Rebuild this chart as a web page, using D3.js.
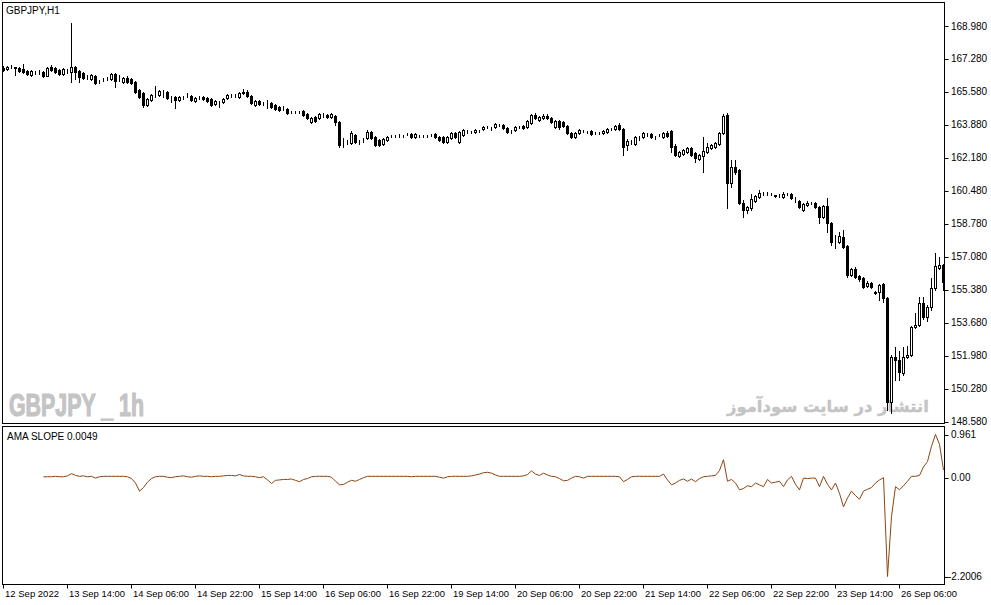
<!DOCTYPE html>
<html><head><meta charset="utf-8">
<script src="https://cdn.jsdelivr.net/npm/d3@7/dist/d3.min.js"></script>
<style>html,body{margin:0;padding:0;background:#fff;}svg{display:block;}</style>
</head><body>
<script>
const symbolTitle = "GBPJPY,H1";
const indicatorTitle = "AMA SLOPE 0.0049";
const watermarkLeft = "GBPJPY _ 1h";
const watermarkRight = "انتشار در سایت سودآموز";

const open = [166.81,166.76,166.87,166.84,166.81,166.76,166.66,166.45,166.66,166.63,166.61,166.40,166.87,166.81,166.71,166.50,166.73,166.61,166.87,166.66,166.56,166.36,166.25,166.40,166.14,166.18,166.36,166.25,166.50,166.25,166.09,166.30,166.25,166.09,165.68,165.53,164.91,165.16,165.47,165.42,165.60,165.58,165.37,165.32,165.16,165.32,165.40,165.37,165.11,165.30,165.32,165.27,165.22,164.96,165.11,165.06,165.27,165.37,165.39,165.32,165.58,165.58,165.37,164.91,165.11,165.01,164.97,165.01,164.91,164.80,164.76,164.70,164.55,164.55,164.60,164.60,164.44,164.03,164.29,164.23,164.40,164.39,164.29,164.34,164.03,162.98,162.99,162.95,163.36,163.00,163.08,163.20,163.51,163.26,163.10,162.89,163.10,163.30,163.32,163.35,163.32,163.39,163.41,163.26,163.32,163.30,163.32,163.34,163.41,163.26,163.26,163.00,163.20,163.46,163.00,163.36,163.50,163.52,163.51,163.58,163.67,163.77,163.75,163.77,163.88,163.87,163.72,163.62,163.62,163.77,163.82,163.77,163.98,164.39,164.13,164.23,164.34,164.23,163.77,164.08,164.03,163.82,163.46,163.26,163.46,163.58,163.55,163.56,163.45,163.47,163.46,163.51,163.70,163.67,163.87,163.67,162.84,163.00,162.89,163.26,163.26,163.36,163.41,163.26,163.35,163.26,163.46,163.56,162.79,162.28,162.38,162.48,162.69,162.43,162.12,162.28,162.48,162.69,162.74,162.89,163.46,164.39,160.88,161.71,161.55,159.85,159.49,159.59,159.96,160.16,160.32,160.34,160.32,160.24,160.27,160.16,160.32,160.32,160.11,159.96,159.49,159.75,159.86,159.85,159.65,159.13,159.70,158.82,157.96,157.84,158.10,157.64,156.14,156.45,156.09,155.98,155.57,155.73,155.26,155.26,155.67,154.95,149.59,151.91,151.76,151.09,151.91,152.01,153.46,153.56,154.70,153.97,154.49,155.47,156.50,156.66];
const high = [166.92,166.92,166.97,166.84,166.84,167.02,166.71,166.71,166.68,166.71,166.66,166.84,166.97,166.87,166.76,166.81,166.76,169.15,166.92,166.71,166.61,166.45,166.50,166.45,166.20,166.30,166.36,166.56,166.56,166.45,166.35,166.40,166.30,166.14,165.73,165.58,165.27,165.47,165.89,165.68,165.68,165.63,165.37,165.37,165.37,165.37,165.53,165.42,165.32,165.37,165.37,165.32,165.27,165.16,165.11,165.27,165.47,165.47,165.47,165.58,165.73,165.68,165.42,165.16,165.16,165.06,165.16,165.06,164.96,164.85,164.85,164.75,164.60,164.60,164.62,164.65,164.49,164.28,164.34,164.49,164.49,164.44,164.49,164.39,164.08,163.20,163.10,163.56,163.41,163.10,163.20,163.62,163.56,163.31,163.15,163.20,163.31,163.36,163.38,163.41,163.36,163.46,163.46,163.46,163.36,163.38,163.36,163.41,163.46,163.31,163.31,163.31,163.51,163.51,163.56,163.67,163.60,163.58,163.67,163.64,163.82,163.82,163.79,163.98,163.93,163.93,163.77,163.64,163.82,163.82,163.87,164.13,164.44,164.49,164.34,164.44,164.44,164.28,164.13,164.13,164.08,163.87,163.51,163.51,163.67,163.64,163.59,163.62,163.51,163.51,163.62,163.72,163.74,163.87,163.98,163.72,163.15,163.10,163.31,163.30,163.51,163.46,163.46,163.31,163.41,163.51,163.56,163.62,162.89,162.54,162.64,162.74,162.74,162.48,162.38,163.26,162.95,162.89,163.00,163.51,164.44,164.49,162.07,162.07,161.60,160.01,159.70,160.32,160.27,160.52,160.42,160.42,160.37,160.27,160.32,160.42,160.37,160.37,160.16,160.01,159.85,159.96,159.92,159.90,159.70,159.75,160.11,158.87,158.20,158.36,158.46,157.69,156.50,156.55,156.14,156.04,155.83,155.78,155.31,155.67,155.73,155.00,152.01,152.43,152.22,152.43,152.48,153.51,154.20,155.00,155.00,154.59,155.98,157.27,157.06,156.71];
const low = [166.66,166.71,166.79,166.45,166.61,166.56,166.45,166.40,166.50,166.52,166.35,166.38,166.66,166.56,166.45,166.45,166.55,166.11,166.25,166.09,166.25,166.25,166.20,165.99,166.04,166.12,166.20,166.20,165.83,166.14,166.04,166.04,165.99,165.53,165.27,164.80,164.85,165.11,165.32,165.37,165.32,165.22,165.06,164.75,165.11,165.22,165.32,165.11,165.06,165.22,165.16,165.06,164.85,164.91,164.80,165.01,165.22,165.32,165.32,165.27,165.47,165.32,164.96,164.85,164.91,164.91,164.75,164.75,164.65,164.60,164.65,164.44,164.49,164.49,164.49,164.34,164.18,163.98,164.03,164.18,164.29,164.23,164.23,163.87,162.74,162.74,162.92,162.89,162.95,162.92,163.00,163.15,163.15,162.79,162.79,162.84,163.05,163.26,163.24,163.26,163.24,163.36,163.20,163.20,163.24,163.26,163.24,163.30,163.20,163.05,162.95,162.95,163.15,163.20,162.95,163.31,163.44,163.44,163.46,163.50,163.62,163.70,163.62,163.72,163.82,163.67,163.46,163.46,163.56,163.70,163.67,163.72,163.93,164.18,164.08,164.18,164.18,163.98,163.72,163.67,163.77,163.41,163.20,163.20,163.41,163.50,163.46,163.36,163.41,163.40,163.41,163.46,163.62,163.62,163.62,162.33,162.59,162.92,162.84,163.10,163.20,163.31,163.20,163.15,163.30,163.20,163.26,162.48,162.28,162.23,162.33,162.43,162.28,161.97,162.07,161.45,162.43,162.64,162.69,162.84,163.41,159.59,160.68,161.35,159.80,159.13,159.34,159.49,159.90,160.11,160.27,160.27,160.27,160.16,160.16,160.11,160.24,160.06,159.90,159.59,159.44,159.70,159.78,159.59,158.82,159.08,158.36,157.69,157.53,157.79,157.53,156.04,156.09,155.98,155.83,155.47,155.52,155.47,155.16,154.85,154.75,149.18,149.02,150.72,150.72,150.98,151.86,151.96,153.41,153.51,153.87,153.77,154.33,155.37,156.45,155.37];
const close = [166.71,166.87,166.85,166.81,166.66,166.61,166.50,166.66,166.64,166.61,166.40,166.81,166.71,166.61,166.50,166.76,166.71,166.87,166.61,166.35,166.30,166.34,166.45,166.04,166.12,166.20,166.34,166.50,166.14,166.23,166.30,166.09,166.04,165.58,165.32,164.91,165.22,165.42,165.45,165.63,165.58,165.27,165.35,165.16,165.32,165.30,165.42,165.16,165.27,165.32,165.22,165.11,164.91,165.11,165.09,165.22,165.42,165.39,165.37,165.53,165.53,165.37,165.01,165.11,164.96,164.99,164.95,164.80,164.70,164.65,164.74,164.49,164.53,164.53,164.58,164.39,164.23,164.23,164.08,164.44,164.38,164.29,164.44,164.03,162.84,163.00,163.02,163.46,163.00,162.98,163.10,163.51,163.20,162.84,162.84,163.15,163.26,163.32,163.30,163.37,163.30,163.41,163.26,163.41,163.30,163.32,163.30,163.36,163.26,163.10,163.00,163.26,163.46,163.26,163.51,163.62,163.52,163.50,163.62,163.56,163.77,163.75,163.77,163.93,163.86,163.72,163.51,163.60,163.77,163.75,163.72,164.08,164.39,164.23,164.29,164.34,164.23,164.03,164.08,163.77,163.82,163.46,163.26,163.46,163.62,163.56,163.57,163.41,163.47,163.45,163.56,163.67,163.72,163.82,163.67,162.74,163.05,163.02,163.26,163.28,163.46,163.38,163.26,163.24,163.37,163.46,163.31,162.74,162.33,162.48,162.59,162.69,162.33,162.17,162.33,162.54,162.74,162.84,162.95,163.46,164.34,160.88,161.71,161.45,159.85,159.49,159.65,160.06,160.21,160.37,160.34,160.32,160.30,160.21,160.29,160.32,160.30,160.11,160.13,159.65,159.80,159.85,159.84,159.65,159.13,159.70,158.82,157.84,157.92,158.15,157.58,156.14,156.45,156.04,155.93,155.52,155.73,155.52,155.21,155.62,154.95,149.59,151.91,151.76,151.14,151.91,152.01,153.46,153.56,154.70,153.97,154.49,155.47,156.60,156.66,155.78];
const slope = [null,null,null,null,null,null,null,null,null,null,
0.02,0.02,0.02,0.03,0.02,0.02,0.04,0.09,0.05,0.03,
0.04,0.02,0.03,-0.01,0.02,0.03,0.03,0.03,0.03,0.03,
0.03,0.02,-0.02,-0.12,-0.30,-0.22,-0.10,-0.02,0.02,0.03,
0.03,0.01,0.00,0.02,0.03,0.04,0.02,0.01,0.03,0.04,
0.03,0.03,0.02,0.03,0.03,0.04,0.05,0.05,0.04,0.07,
0.04,0.03,0.03,0.02,0.00,0.02,-0.05,-0.13,-0.06,-0.05,
-0.04,-0.04,-0.03,-0.06,-0.09,-0.04,-0.02,0.02,0.03,0.03,
0.03,0.03,0.01,-0.08,-0.16,-0.15,-0.10,-0.06,-0.08,-0.04,
0.00,0.03,0.03,0.03,0.03,0.03,0.03,0.03,0.03,0.03,
0.03,0.03,0.02,0.03,0.03,0.03,0.03,0.03,0.03,0.01,
-0.01,0.02,0.03,0.03,0.03,0.03,0.03,0.04,0.06,0.08,
0.11,0.12,0.10,0.06,0.03,0.03,0.03,0.03,0.03,0.03,
0.04,0.07,0.15,0.08,0.05,0.10,0.06,0.03,0.02,-0.02,
-0.07,-0.06,-0.01,0.03,0.02,-0.01,0.03,0.03,0.03,0.03,
0.03,0.03,0.03,0.03,0.02,-0.09,-0.04,0.02,0.03,0.03,
0.03,0.03,0.03,0.03,0.03,0.08,-0.05,-0.16,-0.12,-0.06,
-0.03,-0.08,-0.03,-0.09,-0.02,0.02,0.03,0.04,0.05,0.16,
0.40,-0.08,-0.04,-0.12,-0.27,-0.24,-0.18,-0.20,-0.12,-0.16,
-0.20,-0.04,-0.12,-0.10,-0.08,-0.20,-0.05,0.03,-0.15,-0.27,
-0.01,-0.02,-0.01,-0.01,-0.20,0.03,-0.15,-0.27,-0.12,-0.35,
-0.65,-0.45,-0.30,-0.40,-0.48,-0.30,-0.26,-0.22,-0.12,-0.05,
0.00,-2.2006,-0.87,-0.20,-0.27,-0.18,-0.08,0.03,0.03,0.05,
0.24,0.36,0.70,0.961,0.74,0.17];

const priceTicks = [148.58,150.28,151.98,153.68,155.38,157.08,158.78,160.48,162.18,163.88,165.58,167.28,168.98];
const slopeTicks = [0.961, 0.00, -2.2006];
const slopeTickLabels = ["0.961", "0.00", "-2.2006"];
const timeTickBars = [0,16,32,48,64,80,96,112,128,144,160,176,192,208,224];
const timeTickLabels = ["12 Sep 2022","13 Sep 14:00","14 Sep 06:00","14 Sep 22:00","15 Sep 14:00","16 Sep 06:00","16 Sep 22:00","19 Sep 14:00","20 Sep 06:00","20 Sep 22:00","21 Sep 14:00","22 Sep 06:00","22 Sep 22:00","23 Sep 14:00","26 Sep 06:00"];

const W = 991, H = 605;
const FONT = "'Liberation Sans', Arial, sans-serif";
const svg = d3.select("body").append("svg").attr("width", W).attr("height", H);
svg.append("rect").attr("width", W).attr("height", H).attr("fill", "#fff");

const L = 2.5, R = 944.5;
const mainTop = 2.5, mainBot = 423.5;
const indTop = 426.5, indBot = 584.5;

const x = d3.scaleLinear().domain([0, open.length - 1]).range([3, 3 + 4 * (open.length - 1)]);
const y = d3.scaleLinear().domain([148.58, 168.98]).range([421.6, 26]);
const ys = d3.scaleLinear().domain([-2.2006, 0.961]).range([576.5, 434.5]);

const defs = svg.append("defs");
defs.append("clipPath").attr("id", "cm").append("rect").attr("x", L).attr("y", mainTop).attr("width", R - L).attr("height", mainBot - mainTop);
defs.append("clipPath").attr("id", "ci").append("rect").attr("x", L).attr("y", indTop).attr("width", R - L).attr("height", indBot - indTop);

// watermarks
svg.append("text").attr("x", 9).attr("y", 416).attr("font-family", "'Liberation Sans', Arial, sans-serif")
  .attr("font-weight", "bold").attr("font-size", 31).attr("fill", "#c4c4c4")
  .attr("stroke", "#c4c4c4").attr("stroke-width", 1.2)
  .attr("textLength", 135).attr("lengthAdjust", "spacingAndGlyphs").text(watermarkLeft);
const wr = svg.append("text").attr("x", 727).attr("y", 412).attr("font-family", "'DejaVu Sans', sans-serif")
  .attr("font-weight", "bold").attr("font-size", 22).attr("fill", "#c4c4c4")
  .attr("stroke", "#c4c4c4").attr("stroke-width", 0.4).text(watermarkRight);
const natW = wr.node().getComputedTextLength();
if (natW > 0) wr.attr("font-size", Math.min(24, 22 * 202 / natW));

// candles
const gc = svg.append("g").attr("clip-path", "url(#cm)");
const idx = d3.range(open.length);
gc.selectAll("line.w").data(idx).join("line")
  .attr("x1", i => x(i) + 0.5).attr("x2", i => x(i) + 0.5)
  .attr("y1", i => Math.round(y(high[i]))).attr("y2", i => Math.round(y(low[i])) + 1)
  .attr("stroke", "#000").attr("stroke-width", 1);
gc.selectAll("rect.b").data(idx).join("rect")
  .attr("x", i => x(i) - 0.5)
  .attr("y", i => Math.round(y(Math.max(open[i], close[i]))) + 0.5)
  .attr("width", 2)
  .attr("height", i => Math.max(0, Math.round(y(Math.min(open[i], close[i]))) - Math.round(y(Math.max(open[i], close[i])))))
  .attr("fill", i => close[i] >= open[i] ? "#fff" : "#000")
  .attr("stroke", "#000").attr("stroke-width", 1);

// indicator line
const gi = svg.append("g").attr("clip-path", "url(#ci)");
gi.append("path").datum(idx.filter(i => slope[i] !== null))
  .attr("d", d3.line().x(i => x(i) + 0.5).y(i => ys(slope[i])))
  .attr("fill", "none").attr("stroke", "#8B4513").attr("stroke-width", 1);

// frames
svg.append("rect").attr("x", L).attr("y", mainTop).attr("width", R - L).attr("height", mainBot - mainTop).attr("fill", "none").attr("stroke", "#000");
svg.append("rect").attr("x", L).attr("y", indTop).attr("width", R - L).attr("height", indBot - indTop).attr("fill", "none").attr("stroke", "#000");

// price axis
const ga = svg.append("g");
ga.selectAll("line").data(priceTicks).join("line")
  .attr("x1", R).attr("x2", R + 4).attr("y1", d => Math.round(y(d)) + 0.5).attr("y2", d => Math.round(y(d)) + 0.5).attr("stroke", "#000");
ga.selectAll("text").data(priceTicks).join("text")
  .attr("x", 951).attr("y", d => y(d) + 3.5).attr("font-family", FONT).attr("font-size", 10).attr("fill", "#000")
  .text(d => d3.format(".3f")(d));

// slope axis
const gs = svg.append("g");
gs.selectAll("line").data(slopeTicks).join("line")
  .attr("x1", R).attr("x2", R + 4).attr("y1", d => Math.round(ys(d)) + 0.5).attr("y2", d => Math.round(ys(d)) + 0.5).attr("stroke", "#000");
gs.selectAll("text").data(slopeTicks).join("text")
  .attr("x", (d, i) => i === 2 ? 948 : 951).attr("y", d => ys(d) + 3.5).attr("font-family", FONT).attr("font-size", 10).attr("fill", "#000")
  .text((d, i) => slopeTickLabels[i]);

// time axis
const gt = svg.append("g");
gt.selectAll("line").data(timeTickBars).join("line")
  .attr("x1", d => x(d) + 0.5).attr("x2", d => x(d) + 0.5).attr("y1", indBot).attr("y2", indBot + 4).attr("stroke", "#000");
gt.selectAll("text").data(timeTickBars).join("text")
  .attr("x", d => x(d) + 2).attr("y", 597).attr("font-family", FONT).attr("font-size", 9.5).attr("fill", "#000")
  .attr("textLength", (d, i) => i === 0 ? 54 : 56).attr("lengthAdjust", "spacingAndGlyphs")
  .text((d, i) => timeTickLabels[i]);

// titles
svg.append("text").attr("x", 6).attr("y", 14).attr("font-family", FONT).attr("font-size", 10).attr("fill", "#000").text(symbolTitle);
svg.append("text").attr("x", 7).attr("y", 440).attr("font-family", FONT).attr("font-size", 10).attr("fill", "#000").text(indicatorTitle);
</script>
</body></html>
